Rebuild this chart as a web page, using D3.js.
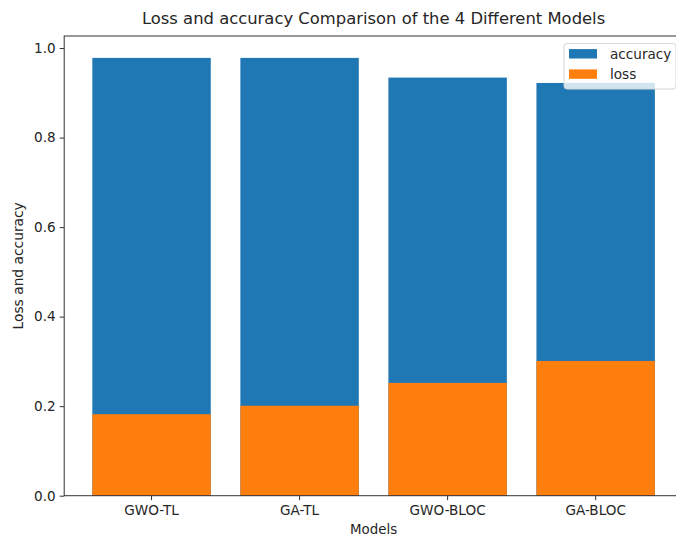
<!DOCTYPE html>
<html>
<head>
<meta charset="utf-8">
<script src="https://cdn.jsdelivr.net/npm/d3@7"></script>
<style>
  html, body { margin: 0; padding: 0; background: #fff; }
  svg { display: block; }
  text { font-family: "DejaVu Sans", sans-serif; fill: #262626; }
</style>
</head>
<body>
<svg id="chart" width="676" height="536"></svg>
<script>
// Model names, accuracy and loss per model
const models = ["GWO-TL", "GA-TL", "GWO-BLOC", "GA-BLOC"];
const accuracy = [0.978, 0.978, 0.934, 0.922];
const loss = [0.182, 0.201, 0.252, 0.301];
const yTicks = [0.0, 0.2, 0.4, 0.6, 0.8, 1.0];
const seriesNames = ["accuracy", "loss"];
const seriesColors = ["#1f77b4", "#ff7f0e"];

const W = 676, H = 536;
const plot = { left: 64.2, right: 683, top: 36, bottom: 495.7 };
const tickFont = 13.6;

const svg = d3.select("#chart");

const x = d3.scaleBand()
  .domain(models)
  .range([plot.left, plot.right])
  .paddingInner(0.2)
  .paddingOuter(0.19);

const yMax = d3.max(accuracy) * 1.05;
const y = d3.scaleLinear().domain([0, yMax]).range([plot.bottom, plot.top]);

// accuracy bars, then loss bars drawn over them from zero
[accuracy, loss].forEach((vals, si) => {
  svg.append("g")
    .selectAll("rect")
    .data(models)
    .join("rect")
    .attr("x", d => x(d))
    .attr("width", x.bandwidth())
    .attr("y", (d, i) => y(vals[i]))
    .attr("height", (d, i) => y(0) - y(vals[i]))
    .attr("fill", seriesColors[si]);
});

// spines
const spine = svg.append("g").attr("stroke", "#333").attr("stroke-width", 1).attr("fill", "none");
spine.append("rect")
  .attr("x", plot.left).attr("y", plot.top)
  .attr("width", plot.right - plot.left).attr("height", plot.bottom - plot.top);

// y axis
const yAxis = d3.axisLeft(y)
  .tickValues(yTicks)
  .tickFormat(d3.format(".1f"))
  .tickSize(4.5)
  .tickPadding(4);
const gy = svg.append("g").attr("transform", `translate(${plot.left},0)`).call(yAxis);
gy.select(".domain").remove();
gy.selectAll(".tick line").attr("stroke", "#333");
gy.selectAll(".tick text").attr("font-size", tickFont).attr("font-family", "DejaVu Sans").attr("fill", "#262626");

// x axis
const xAxis = d3.axisBottom(x).tickSize(4.5).tickPadding(5);
const gx = svg.append("g").attr("transform", `translate(0,${plot.bottom})`).call(xAxis);
gx.select(".domain").remove();
gx.selectAll(".tick line").attr("stroke", "#333");
gx.selectAll(".tick text").attr("font-size", tickFont).attr("font-family", "DejaVu Sans").attr("fill", "#262626");

// titles
const midX = (plot.left + plot.right) / 2;
svg.append("text")
  .attr("x", midX).attr("y", 24)
  .attr("text-anchor", "middle")
  .attr("font-size", 16.4)
  .text("Loss and accuracy Comparison of the 4 Different Models");

svg.append("text")
  .attr("x", midX).attr("y", 534)
  .attr("text-anchor", "middle")
  .attr("font-size", 13.4)
  .text("Models");

svg.append("text")
  .attr("transform", `translate(23,${(plot.top + plot.bottom) / 2}) rotate(-90)`)
  .attr("text-anchor", "middle")
  .attr("font-size", 13.8)
  .text("Loss and accuracy");

// legend
const lg = svg.append("g");
lg.append("rect")
  .attr("x", 564).attr("y", 43.5)
  .attr("width", 112).attr("height", 45.5)
  .attr("rx", 3)
  .attr("fill", "#fff").attr("fill-opacity", 0.8)
  .attr("stroke", "#d6d6d6").attr("stroke-width", 1);
seriesNames.forEach((name, i) => {
  const cy = 53.8 + i * 20.3;
  lg.append("rect")
    .attr("x", 569).attr("y", cy - 4.7)
    .attr("width", 28).attr("height", 9.4)
    .attr("fill", seriesColors[i]);
  lg.append("text")
    .attr("x", 610).attr("y", cy + 4.8)
    .attr("font-size", 13.6)
    .text(name);
});
</script>
</body>
</html>
